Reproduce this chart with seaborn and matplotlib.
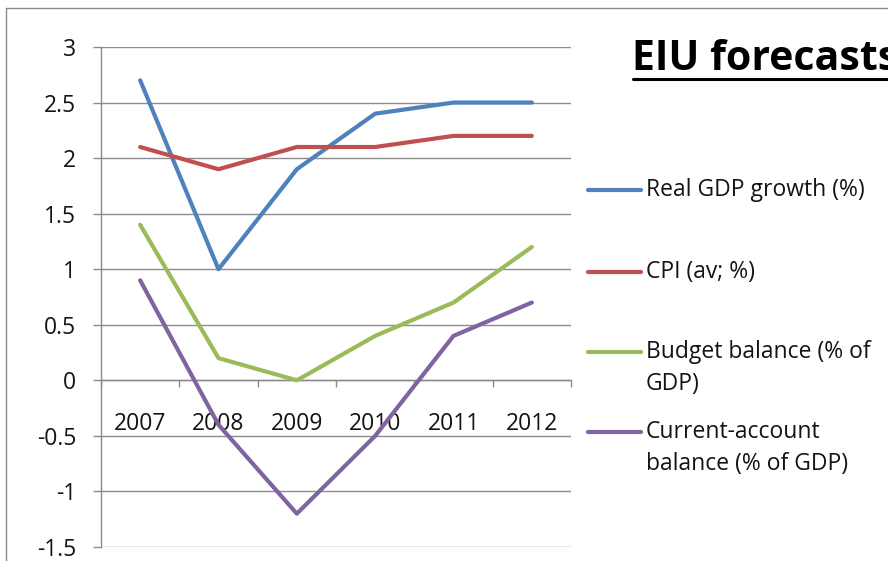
import matplotlib
matplotlib.use("Agg")
import matplotlib.pyplot as plt
from matplotlib.lines import Line2D
from matplotlib.ticker import FixedLocator
import seaborn as sns
import pandas as pd

years = ["2007", "2008", "2009", "2010", "2011", "2012"]
series_names = ["Real GDP growth (%)", "CPI (av; %)",
                "Budget balance (% of\nGDP)", "Current-account\nbalance (% of GDP)"]
gdp = [2.7, 1.0, 1.9, 2.4, 2.5, 2.5]
cpi = [2.1, 1.9, 2.1, 2.1, 2.2, 2.2]
budget = [1.4, 0.2, 0.0, 0.4, 0.7, 1.2]
current = [0.9, -0.4, -1.2, -0.5, 0.4, 0.7]
colors = ["#4F81BD", "#C0504D", "#9BBB59", "#8064A2"]
title = "EIU forecasts"

sns.set_theme(style="white")
FONT = ["Open Sans", "DejaVu Sans"]
plt.rcParams["font.family"] = FONT

W, H = 888, 561
fig = plt.figure(figsize=(W / 100, H / 100), dpi=100)
fig.patch.set_facecolor("white")

def fx(x):
    return x / W

def fy(y):
    return 1 - y / H

ax = fig.add_axes([fx(101), fy(547), fx(571) - fx(101), fy(47) - fy(547)])

rows = []
for name, vals in zip(series_names, [gdp, cpi, budget, current]):
    for i, v in enumerate(vals):
        rows.append({"idx": i, "value": v, "series": name})
df = pd.DataFrame(rows)

sns.lineplot(data=df, x="idx", y="value", hue="series", hue_order=series_names,
             palette=colors, linewidth=3, ax=ax, legend=False, zorder=3)

ax.set_xlim(-0.5, len(years) - 0.5)
ax.set_ylim(-1.5, 3)
ax.set_xlabel("")
ax.set_ylabel("")

TXT = "#141414"
grid_c = "#8C8C8C"
ax.set_yticks([-1.5, -1, -0.5, 0, 0.5, 1, 1.5, 2, 2.5, 3])
ax.set_yticklabels(["-1.5", "-1", "-0.5", "0", "0.5", "1", "1.5", "2", "2.5", "3"])
ax.yaxis.grid(True, color=grid_c, linewidth=1)
ax.xaxis.grid(False)
ax.tick_params(axis="y", which="major", length=6, width=1, color=grid_c,
               labelsize=16.5, pad=12, direction="out", left=True, labelcolor=TXT)

ax.set_xticks(range(len(years)))
ax.set_xticklabels(years)
ax.xaxis.set_minor_locator(FixedLocator([i - 0.5 for i in range(len(years) + 1)]))
ax.tick_params(axis="x", which="major", length=0, pad=23, labelsize=16.5, labelcolor=TXT)
ax.tick_params(axis="x", which="minor", length=5, width=1, color=grid_c,
               direction="out", bottom=True)

for s in ["top", "right"]:
    ax.spines[s].set_visible(False)
ax.spines["left"].set_color(grid_c)
ax.spines["left"].set_linewidth(1)
ax.spines["bottom"].set_position(("data", 0))
ax.spines["bottom"].set_color(grid_c)
ax.spines["bottom"].set_linewidth(1)

# outer frame
fig.add_artist(Line2D([fx(6), fx(W + 5)], [fy(8), fy(8)], color="#8a8a8a", lw=1))
fig.add_artist(Line2D([fx(6), fx(6)], [fy(8), fy(H + 5)], color="#8a8a8a", lw=1))

# title
fig.text(fx(632), fy(60), title, fontsize=29.5, fontweight="bold", color="black",
         ha="left", va="center", family=FONT)
fig.add_artist(Line2D([fx(633), fx(W + 5)], [fy(79), fy(79)], color="black", lw=2.2))

# legend
leg_y = [190, 272, 352, 432]
for name, c, y in zip(series_names, colors, leg_y):
    fig.add_artist(Line2D([fx(588), fx(641)], [fy(y), fy(y)], color=c, lw=3,
                          solid_capstyle="round"))
    for k, line in enumerate(name.split("\n")):
        fig.text(fx(646), fy(y + 32 * k), line, fontsize=16.5, color=TXT,
                 ha="left", va="center", family=FONT)

fig.savefig("out.png", dpi=100)
